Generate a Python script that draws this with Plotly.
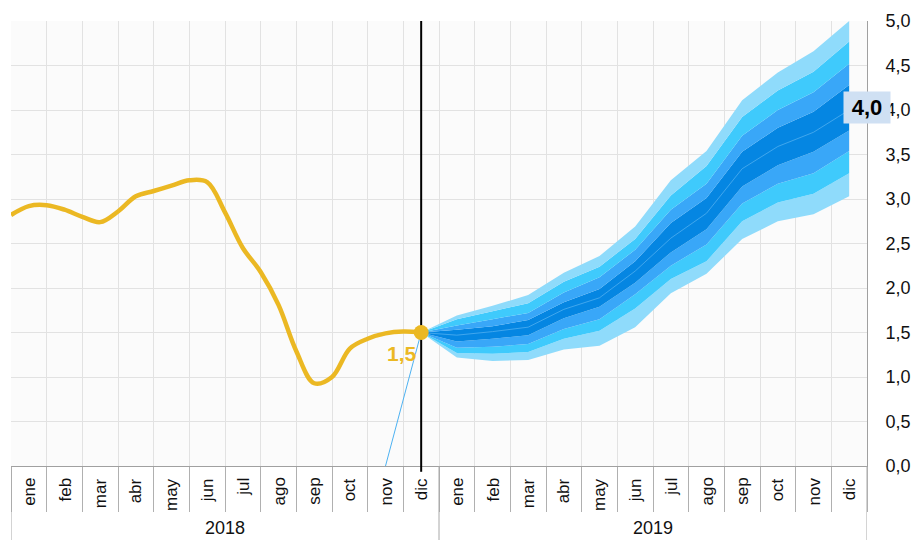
import plotly.graph_objects as go

# Category labels
months = ["ene", "feb", "mar", "abr", "may", "jun", "jul", "ago", "sep", "oct", "nov", "dic"]
years = ["2018", "2019"]

# Observed inflation 2018 (semi-monthly readings, month index 0 = ene 2018)
hist_t = [-0.5, 0, 0.5, 1, 1.5, 2, 2.5, 3, 3.5, 4, 4.5, 5, 5.5, 6, 6.5, 7, 7.5, 8, 8.5, 9, 9.5, 10, 10.5, 11]
hist_v = [2.82, 2.92, 2.93, 2.88, 2.80, 2.74, 2.86, 3.03, 3.09, 3.15, 3.21, 3.19,
          2.85, 2.45, 2.18, 1.81, 1.29, 0.93, 1.00, 1.32, 1.43, 1.49, 1.51, 1.50]
last_value = 1.5

# Forecast fan, dic 2018 .. dic 2019 (month index 11..23)
fan_t = list(range(11, 24))
upper_90 = [1.5, 1.69, 1.80, 1.92, 2.17, 2.36, 2.69, 3.21, 3.54, 4.11, 4.42, 4.66, 5.00]
upper_70 = [1.5, 1.65, 1.74, 1.83, 2.07, 2.24, 2.55, 3.04, 3.37, 3.92, 4.22, 4.43, 4.77]
upper_50 = [1.5, 1.58, 1.65, 1.72, 1.95, 2.12, 2.43, 2.88, 3.17, 3.71, 4.00, 4.20, 4.52]
upper_30 = [1.5, 1.53, 1.57, 1.64, 1.84, 1.99, 2.30, 2.73, 3.01, 3.53, 3.80, 3.98, 4.28]
median = [1.5, 1.47, 1.51, 1.56, 1.76, 1.89, 2.19, 2.56, 2.84, 3.34, 3.59, 3.75, 4.00]
lower_30 = [1.5, 1.40, 1.43, 1.47, 1.66, 1.79, 2.06, 2.40, 2.66, 3.14, 3.38, 3.53, 3.77]
lower_50 = [1.5, 1.33, 1.34, 1.37, 1.54, 1.65, 1.93, 2.25, 2.49, 2.95, 3.17, 3.29, 3.54]
lower_70 = [1.5, 1.27, 1.26, 1.28, 1.43, 1.52, 1.77, 2.10, 2.30, 2.75, 2.96, 3.06, 3.29]
lower_90 = [1.5, 1.22, 1.18, 1.19, 1.31, 1.35, 1.56, 1.94, 2.16, 2.55, 2.75, 2.83, 3.03]
target_value = 4.0

# Median series starts from zero in nov 2018
median_lead_t = [10, 11]
median_lead_v = [0.0, 1.5]

GOLD = "#EBB823"
C_OUTER = "#8FDBFB"
C_MID = "#3FCAFC"
C_INNER = "#39A7F8"
C_CORE = "#0586E2"
FONT = "Liberation Sans, Arial, sans-serif"

fig = go.Figure()

# Fan bands, stacked bottom to top with fill between consecutive bounds
bands = [
    (lower_90, None),
    (lower_70, C_OUTER),
    (lower_50, C_MID),
    (lower_30, C_INNER),
    (upper_30, C_CORE),
    (upper_50, C_INNER),
    (upper_70, C_MID),
    (upper_90, C_OUTER),
]
for vals, col in bands:
    fig.add_trace(go.Scatter(
        x=fan_t, y=vals, mode="lines", line=dict(width=0, color=col or C_OUTER),
        fill="tonexty" if col else None, fillcolor=col, hoverinfo="skip", showlegend=False,
    ))

fig.add_trace(go.Scatter(x=fan_t, y=median, mode="lines",
                         line=dict(color="#4FAEF0", width=0.8), showlegend=False))
fig.add_trace(go.Scatter(x=median_lead_t, y=median_lead_v, mode="lines",
                         line=dict(color="#4DB2F2", width=1), showlegend=False))

# Vertical divider at dic 2018
fig.add_trace(go.Scatter(x=[11, 11], y=[0, 5], mode="lines",
                         line=dict(color="black", width=2), showlegend=False))

# Observed series
fig.add_trace(go.Scatter(x=hist_t, y=hist_v, mode="lines",
                         line=dict(color=GOLD, width=4.5, shape="spline", smoothing=1),
                         showlegend=False))
fig.add_trace(go.Scatter(x=[11], y=[last_value], mode="markers",
                         marker=dict(color=GOLD, size=15), showlegend=False))

annotations = []
for i in range(24):
    annotations.append(dict(
        x=i, y=0, xref="x", yref="paper", text=months[i % 12], showarrow=False,
        textangle=-90, xanchor="center", yanchor="top", yshift=-10,
        font=dict(family=FONT, size=17, color="#111"),
    ))
for j, yr in enumerate(years):
    annotations.append(dict(
        x=5.5 + 12 * j, y=0, xref="x", yref="paper", text=yr, showarrow=False,
        xanchor="center", yanchor="bottom", yshift=-74,
        font=dict(family=FONT, size=18, color="#111"),
    ))
annotations.append(dict(
    x=11, y=last_value, xref="x", yref="y", text="<b>1,5</b>", showarrow=False,
    xanchor="center", yanchor="middle", xshift=-19, yshift=-21,
    font=dict(family=FONT, size=21, color=GOLD),
))
annotations.append(dict(
    x=1, y=target_value, xref="paper", yref="y", text="<b>4,0</b>", showarrow=False,
    xanchor="center", yanchor="middle", yshift=3, width=44, height=29,
    bgcolor="#CFE0F3", font=dict(family=FONT, size=22, color="black"),
))

shapes = []
# Year separators reaching to the bottom edge
for xb in [-0.5, 11.5, 23.5]:
    shapes.append(dict(type="line", xref="x", yref="paper", x0=xb, x1=xb, y0=0, y1=-0.17,
                       line=dict(color="#A8A8A8", width=1)))
# Short extension of the divider below the axis
shapes.append(dict(type="line", xref="x", yref="paper", x0=11, x1=11, y0=0, y1=-0.013,
                   line=dict(color="black", width=2)))

fig.update_layout(
    width=922, height=540,
    margin=dict(l=11, r=50, t=16, b=74),
    paper_bgcolor="white", plot_bgcolor="#FBFBFB",
    separators=",.",
    showlegend=False,
    annotations=annotations, shapes=shapes,
    font=dict(family=FONT, color="#111"),
)
fig.update_xaxes(
    range=[-0.5, 23.5], tickvals=[k - 0.5 for k in range(25)], ticktext=[""] * 25,
    showgrid=True, gridcolor="#E2E2E2", gridwidth=1, zeroline=False,
    ticks="outside", ticklen=45, tickcolor="#B0B0B0", tickwidth=1,
    showline=True, linecolor="#A0A0A0", linewidth=1,
)
fig.update_yaxes(
    range=[0, 5], dtick=0.5, tickformat=".1f", side="right",
    showgrid=True, gridcolor="#E2E2E2", gridwidth=1, zeroline=False,
    showline=True, linecolor="#A0A0A0", linewidth=1,
    ticks="", ticklabelstandoff=14,
    tickfont=dict(family=FONT, size=18, color="#111"),
)

fig.write_html("out.html")
